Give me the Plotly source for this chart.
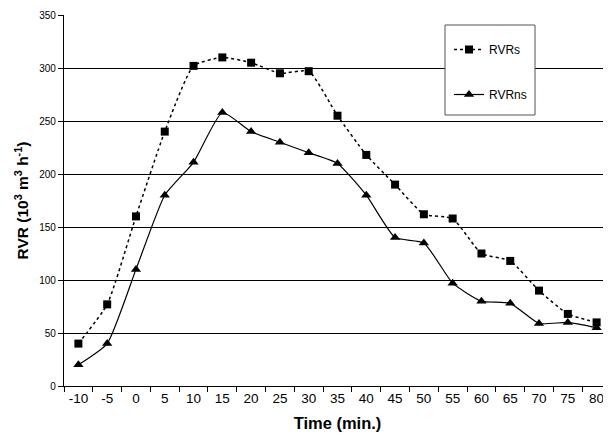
import plotly.graph_objects as go

time_min = [-10, -5, 0, 5, 10, 15, 20, 25, 30, 35, 40, 45, 50, 55, 60, 65, 70, 75, 80]
rvr_s = [40, 77, 160, 240, 302, 310, 305, 295, 297, 255, 218, 190, 162, 158, 125, 118, 90, 68, 60]
rvr_ns = [20, 40, 110, 180, 211, 258, 240, 230, 220, 210, 180, 140, 135, 97, 80, 78, 59, 60, 55]
x_tick_labels = [str(t) for t in time_min]
y_ticks = [0, 50, 100, 150, 200, 250, 300, 350]
y_grid = [50, 100, 150, 200, 250, 300]

boundaries = [t - 2.5 for t in time_min] + [time_min[-1] + 2.5]

FONT = "Liberation Sans, Arial, sans-serif"

# page body has an 8px default margin; figure is sized/offset to compensate
OFF = 8
L, T, PW, PH = 64 - OFF, 15 - OFF, 547, 371

fig = go.Figure()
fig.add_trace(go.Scatter(
    x=time_min, y=rvr_s, name="RVRs", mode="lines+markers",
    line=dict(color="black", width=1.5, dash="dot", shape="spline", smoothing=0.5),
    marker=dict(symbol="square", size=8, color="black"),
))
fig.add_trace(go.Scatter(
    x=time_min, y=rvr_ns, name="RVRns", mode="lines+markers",
    line=dict(color="black", width=1.2, shape="spline", smoothing=0.5),
    marker=dict(symbol="triangle-up", size=9, color="black"),
    legendgroup="b",
))

# legend frame (white box hiding gridline behind it)
fig.add_shape(type="rect", xref="paper", yref="paper",
              x0=(445 - 64) / PW, x1=(535 - 64) / PW,
              y0=(386 - 115) / PH, y1=(386 - 25) / PH,
              fillcolor="white", line=dict(color="#555", width=1), layer="above")

fig.update_layout(
    width=611 - OFF, height=444 - OFF,
    margin=dict(l=L, r=0, t=T, b=58, pad=0),
    paper_bgcolor="white", plot_bgcolor="white",
    font=dict(family=FONT, color="black"),
    showlegend=True,
    legend=dict(
        x=(449 - 64) / PW, y=(386 - 35) / PH, xanchor="left", yanchor="top",
        bgcolor="rgba(0,0,0,0)", borderwidth=0,
        font=dict(size=12, family=FONT),
        tracegroupgap=26, traceorder="grouped",
        itemwidth=30,
    ),
    xaxis=dict(
        range=[-12.5, 82.5], tickmode="array", tickvals=time_min, ticktext=x_tick_labels,
        ticks="", showgrid=False, zeroline=False, automargin=False,
        showline=True, linecolor="black", linewidth=1.2,
        tickfont=dict(size=13.5, family=FONT),
        minor=dict(tickmode="array", tickvals=boundaries, ticks="outside",
                   ticklen=5, tickcolor="black", tickwidth=1, showgrid=False),
        title=dict(text="<b>Time (min.)</b>", font=dict(size=16.5, family=FONT), standoff=12),
    ),
    yaxis=dict(
        range=[0, 350], tickmode="array", tickvals=y_ticks,
        ticks="outside", ticklen=5, tickcolor="black", tickwidth=1,
        showgrid=False, zeroline=False, automargin=False,
        showline=True, linecolor="black", linewidth=1.2,
        tickfont=dict(size=10, family=FONT),
        minor=dict(tickmode="array", tickvals=y_grid, ticks="",
                   showgrid=True, gridcolor="black", gridwidth=1.3),
        title=dict(text="<b>RVR (10<sup>3</sup> m<sup>3</sup> h<sup>-1</sup>)</b>",
                   font=dict(size=15.5, family=FONT), standoff=6),
    ),
)

fig.write_html("out.html")
